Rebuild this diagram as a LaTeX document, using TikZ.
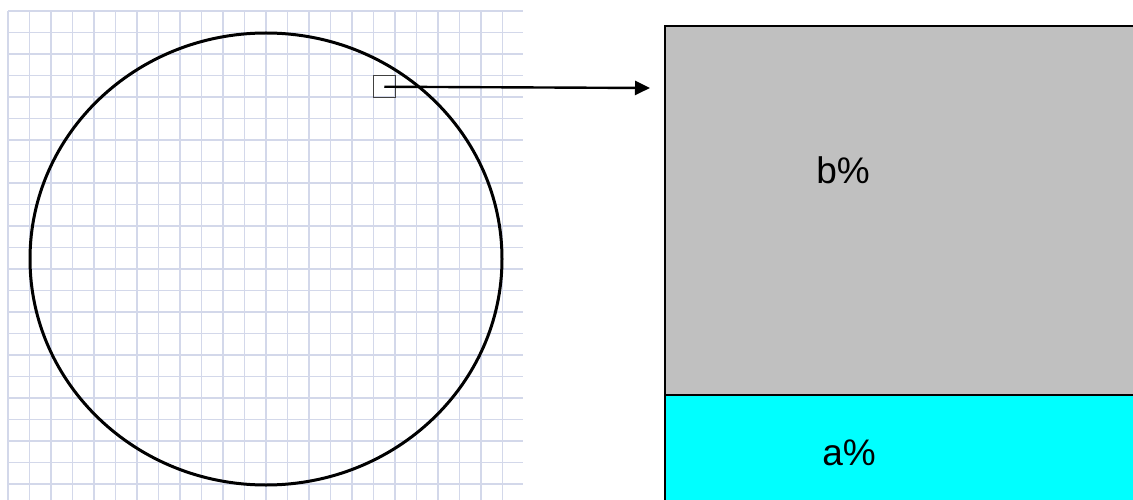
\documentclass[tikz,border=0pt]{standalone}
\usepackage{fontspec}
\setmainfont{Liberation Sans}
\usetikzlibrary{arrows.meta}
\definecolor{gridc}{HTML}{D3D8EA}
\definecolor{boxgray}{HTML}{C0C0C0}
\definecolor{boxcyan}{HTML}{00FFFF}
\tikzset{
  gridline/.style={draw=gridc, line width=1.2pt},
  ring/.style={draw=black, line width=3pt},
  cellbox/.style={draw=black!75, line width=1pt, minimum width=21.5pt, minimum height=21.5pt, inner sep=0pt, outer sep=0pt},
  arrowline/.style={draw=black, line width=2.4pt, -{Triangle[length=15pt,width=14pt]}},
  panel/.style={draw=black, line width=1.8pt, inner sep=0pt, outer sep=0pt, anchor=north west},
  lbl/.style={font=\fontsize{37}{40}\selectfont, text=black, inner sep=0pt}
}
\begin{document}
\begin{tikzpicture}[x=1pt, y=-1pt]
\useasboundingbox (0,0) rectangle (1133,500);
% grid
\foreach \i in {0,...,23} \draw[gridline] (8+21.5*\i, 11) -- (8+21.5*\i, 500);
\foreach \j in {0,...,22} \draw[gridline] (8, 11+21.5*\j) -- (523, 11+21.5*\j);
% circle
\draw[ring] (266,259) ellipse [x radius=236pt, y radius=226pt];
% small square (one grid cell)
\node[cellbox] (sq) at (384.25,86.75) {};
% right panel
\node[panel, fill=boxgray, minimum width=470pt, minimum height=369pt] (top) at (665,26) {};
\node[panel, fill=boxcyan, minimum width=470pt, minimum height=106pt] (bot) at (665,395) {};
\node[lbl, anchor=base] (bt) at (843,183) {b\%};
\node[lbl, anchor=base] (at) at (849,465) {a\%};
% arrow
\coordinate (tip) at (650,88);
\draw[arrowline] (sq.center) -- (tip);
\end{tikzpicture}
\end{document}
